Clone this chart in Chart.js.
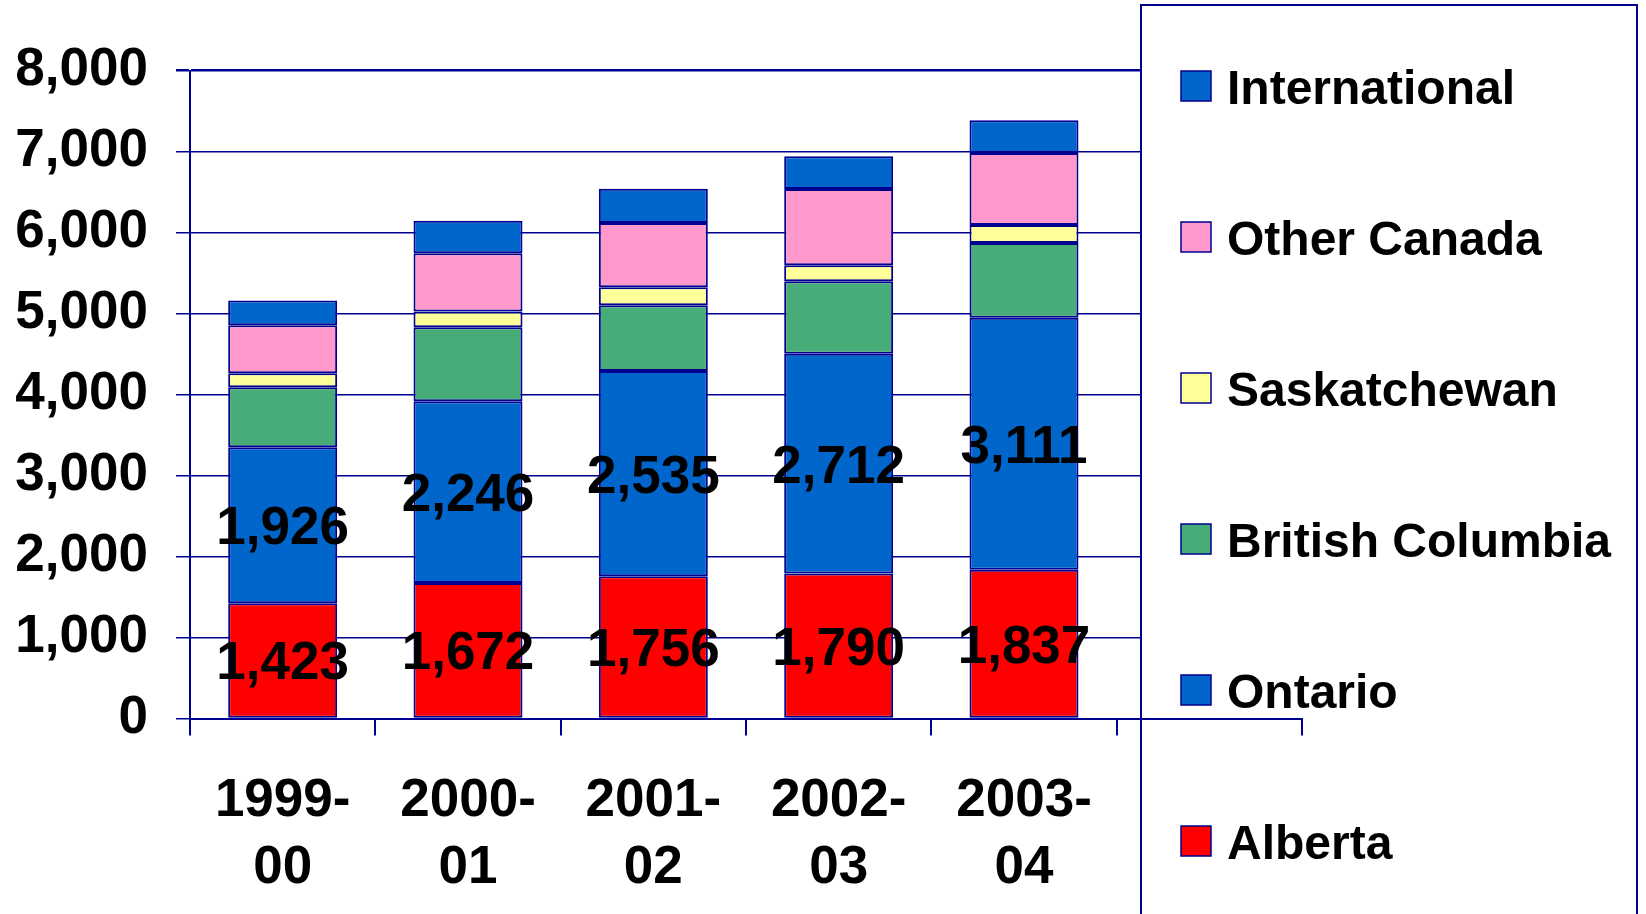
<!DOCTYPE html>
<html>
<head>
<meta charset="utf-8">
<script src="https://cdn.jsdelivr.net/npm/chart.js@4.4.1/dist/chart.umd.min.js"></script>
<style>
  html, body { margin: 0; padding: 0; background: #fff; }
  #wrap { width: 1646px; height: 914px; }
</style>
</head>
<body>
<div id="wrap"><canvas id="chart" width="1646" height="914"></canvas></div>
<script>
// categories (last slot is the empty one hidden behind the legend)
const years = [['1999-', '00'], ['2000-', '01'], ['2001-', '02'], ['2002-', '03'], ['2003-', '04'], ''];

// series, bottom to top
const alberta = [1423, 1672, 1756, 1790, 1837];
const ontario = [1926, 2246, 2535, 2712, 3111];
const britishColumbia = [740, 913, 812, 897, 921];
const saskatchewan = [173, 194, 222, 198, 223];
const otherCanada = [593, 720, 791, 940, 890];
const international = [306, 401, 425, 404, 404];

const yMax = 8000;
const yStep = 1000;

const NAVY = '#000090';
const FONT = '"Liberation Sans", Arial, Helvetica, sans-serif';

const fmt = (v) => Number(v).toLocaleString('en-US');

function barSet(label, data, color, showValues) {
  return {
    label,
    data,
    backgroundColor: color,
    borderColor: NAVY,
    borderWidth: 2,
    borderSkipped: false,
    showValues,
  };
}

// Legend box drawn over the right part of the plot, under the bars
const legendBox = {
  id: 'legendBox',
  beforeDatasetsDraw(chart) {
    const ctx = chart.ctx;
    const left = 1141, top = 5, right = 1637;
    ctx.save();
    ctx.fillStyle = '#fff';
    ctx.fillRect(left, top, right - left, chart.height);
    ctx.strokeStyle = NAVY;
    ctx.lineWidth = 2;
    ctx.beginPath();
    ctx.moveTo(left, chart.height + 5);
    ctx.lineTo(left, top);
    ctx.lineTo(right, top);
    ctx.lineTo(right, chart.height + 5);
    ctx.stroke();

    const items = [...chart.data.datasets].reverse();
    ctx.font = `bold 48px ${FONT}`;
    ctx.textAlign = 'left';
    ctx.textBaseline = 'alphabetic';
    items.forEach((ds, i) => {
      const cy = 86 + i * 151;
      ctx.fillStyle = ds.backgroundColor;
      ctx.fillRect(1181, cy - 15, 30, 30);
      ctx.strokeStyle = NAVY;
      ctx.lineWidth = 1.5;
      ctx.strokeRect(1181, cy - 15, 30, 30);
      ctx.fillStyle = '#000';
      ctx.fillText(ds.label, 1227, cy + 18);
    });
    ctx.restore();
  }
};

// Values centred in the Alberta and Ontario segments
const segmentLabels = {
  id: 'segmentLabels',
  afterDatasetsDraw(chart) {
    const ctx = chart.ctx;
    ctx.save();
    ctx.font = `bold 53px ${FONT}`;
    ctx.fillStyle = '#000';
    ctx.textAlign = 'center';
    ctx.textBaseline = 'alphabetic';
    chart.data.datasets.forEach((ds, di) => {
      if (!ds.showValues) return;
      chart.getDatasetMeta(di).data.forEach((bar, i) => {
        if (ds.data[i] == null) return;
        const { x, y, base } = bar.getProps(['x', 'y', 'base'], true);
        ctx.fillText(fmt(ds.data[i]), x, (y + base) / 2 + 19);
      });
    });
    ctx.restore();
  }
};

new Chart(document.getElementById('chart'), {
  type: 'bar',
  data: {
    labels: years,
    datasets: [
      barSet('Alberta', alberta, '#FF0000', true),
      barSet('Ontario', ontario, '#0066CC', true),
      barSet('British Columbia', britishColumbia, '#47AC78', false),
      barSet('Saskatchewan', saskatchewan, '#FFFF99', false),
      barSet('Other Canada', otherCanada, '#FF99CC', false),
      barSet('International', international, '#0066CC', false),
    ]
  },
  options: {
    responsive: false,
    animation: false,
    devicePixelRatio: 1,
    layout: { padding: { top: 70.5, right: 344, bottom: 0, left: 0 } },
    plugins: {
      legend: { display: false },
      tooltip: { enabled: false }
    },
    datasets: {
      bar: { barPercentage: 0.588, categoryPercentage: 1 }
    },
    scales: {
      x: {
        stacked: true,
        afterFit(scale) { scale.height = 195.5; },
        grid: {
          display: true,
          drawOnChartArea: false,
          drawTicks: true,
          tickLength: 17,
          color: NAVY,
          lineWidth: 2,
          offset: true,
          z: 1
        },
        border: { display: true, color: NAVY, width: 2, z: 1 },
        ticks: {
          color: '#000',
          padding: 32,
          maxRotation: 0,
          autoSkip: false,
          font: { family: FONT, size: 53, weight: 'bold', lineHeight: 1.27 }
        }
      },
      y: {
        stacked: true,
        min: 0,
        max: yMax,
        afterFit(scale) { scale.width = 190; },
        grid: {
          color: NAVY,
          lineWidth: (c) => (c.tick && c.tick.value === yMax ? 2.5 : 1.5),
          drawTicks: true,
          tickLength: 14
        },
        border: { display: true, color: NAVY, width: 2 },
        ticks: {
          stepSize: yStep,
          color: '#000',
          padding: 28,
          callback: (v) => fmt(v),
          font: { family: FONT, size: 53, weight: 'bold' }
        }
      }
    }
  },
  plugins: [legendBox, segmentLabels]
});
</script>
</body>
</html>
